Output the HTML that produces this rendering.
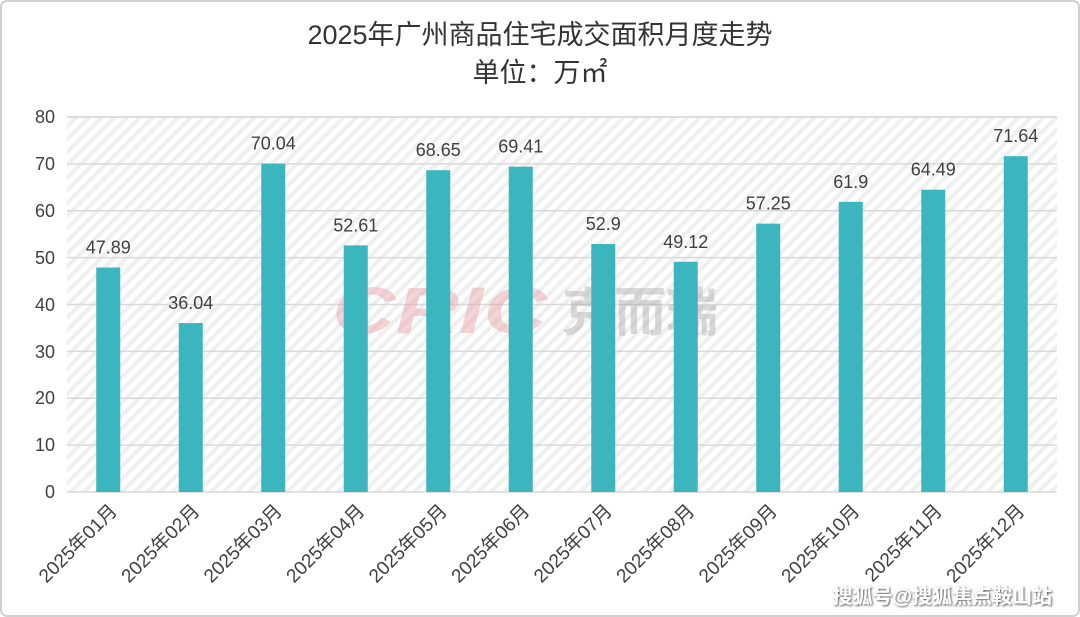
<!DOCTYPE html>
<html><head><meta charset="utf-8"><style>
html,body{margin:0;padding:0;background:#fff;}
svg{display:block;font-family:"Liberation Sans","Noto Sans CJK SC",sans-serif;}
</style></head><body>
<svg width="1080" height="617" viewBox="0 0 1080 617" xmlns="http://www.w3.org/2000/svg">
<defs>
<pattern id="h" width="9" height="9" patternUnits="userSpaceOnUse" patternTransform="rotate(45)">
<rect width="9" height="9" fill="#fff"/><rect width="4" height="9" fill="#efefef"/>
</pattern>
<filter id="sh"><feDropShadow dx="1" dy="1" stdDeviation="1" flood-color="#000" flood-opacity="0.7"/></filter>
</defs>
<rect x="1" y="1" width="1078" height="615" rx="6" fill="#fff" stroke="#d0d0d0" stroke-width="2"/>
<text x="540" y="44" text-anchor="middle" font-size="27" fill="#333">2025年广州商品住宅成交面积月度走势</text>
<text x="540" y="82" text-anchor="middle" font-size="27" fill="#333">单位：万㎡</text>
<rect x="67" y="117" width="990" height="375" fill="url(#h)"/>
<rect x="67" y="116" width="990" height="2" fill="#ddd"/>
<g stroke="#d9d9d9" stroke-width="1.5">
<line x1="67" y1="163.9" x2="1057" y2="163.9"/><line x1="67" y1="210.8" x2="1057" y2="210.8"/>
<line x1="67" y1="257.6" x2="1057" y2="257.6"/><line x1="67" y1="304.5" x2="1057" y2="304.5"/>
<line x1="67" y1="351.4" x2="1057" y2="351.4"/><line x1="67" y1="398.3" x2="1057" y2="398.3"/>
<line x1="67" y1="445.1" x2="1057" y2="445.1"/><line x1="67" y1="492" x2="1057" y2="492"/>
</g>
<g font-size="18" fill="#404040" text-anchor="end">
<text x="55" y="123">80</text><text x="55" y="170">70</text><text x="55" y="217">60</text>
<text x="55" y="264">50</text><text x="55" y="311">40</text><text x="55" y="358">30</text>
<text x="55" y="404">20</text><text x="55" y="451">10</text><text x="55" y="498">0</text>
</g>
<g opacity="0.45" font-weight="bold" font-style="italic">
<text x="332" y="333" font-size="66" fill="#e8a0a8" textLength="215" lengthAdjust="spacingAndGlyphs">CRIC</text>
<text x="562" y="331" font-size="52" fill="#aaa" font-style="normal">克而瑞</text>
</g>
<g id="bars" fill="#3bb6bf"></g>
<g id="vals" font-size="18" fill="#404040" text-anchor="middle"></g>
<g id="cats" font-size="19" fill="#404040" text-anchor="end"></g>
<text x="1052" y="603" text-anchor="end" font-size="20" font-weight="bold" fill="#fff" filter="url(#sh)">搜狐号@搜狐焦点鞍山站</text>
<script>
var v=[47.89,36.04,70.04,52.61,68.65,69.41,52.9,49.12,57.25,61.9,64.49,71.64];
var b=document.getElementById('bars'),l=document.getElementById('vals'),c=document.getElementById('cats'),ns='http://www.w3.org/2000/svg';
v.forEach(function(d,i){
var cx=67+82.5*(i+0.5),y=492-d*4.6875;
var r=document.createElementNS(ns,'rect');r.setAttribute('x',cx-12);r.setAttribute('y',y);r.setAttribute('width',24);r.setAttribute('height',492-y);b.appendChild(r);
var t=document.createElementNS(ns,'text');t.setAttribute('x',cx);t.setAttribute('y',y-14);t.textContent=String(d);l.appendChild(t);
var k=document.createElementNS(ns,'text');k.setAttribute('transform','translate('+(cx+10)+',512) rotate(-45)');k.textContent='2025年'+(i<9?'0':'')+(i+1)+'月';c.appendChild(k);
});
</script>
</svg>
</body></html>
